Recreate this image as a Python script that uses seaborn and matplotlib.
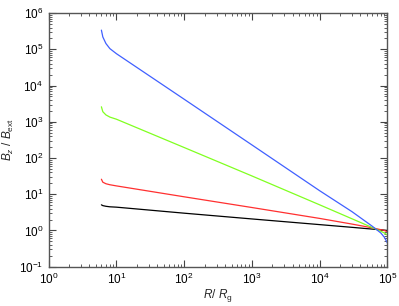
import pandas as pd
import numpy as np
import matplotlib
matplotlib.use("Agg")
import matplotlib.pyplot as plt
import matplotlib.ticker as mticker
import seaborn as sns

R_vals = [6.0, 6.3, 7.0, 8.0, 10.0, 100.0, 1e3, 1e4, 3e4, 6e4, 8e4, 9e4, 1e5]

# B_z / B_ext for each curve
blue_vals = [3.4e5, 2.2e5, 1.45e5, 1.05e5, 7.6e4, 4.2e3, 2.3e2, 12.5, 3.3, 1.3, 0.85, 0.65, 0.45]
green_vals = [2.6e3, 1.9e3, 1.55e3, 1.35e3, 1.18e3, 195.0, 32.0, 5.1, 2.1, 1.2, 0.95, 0.85, 0.75]
red_vals = [26.0, 21.5, 19.5, 18.3, 17.0, 8.5, 4.3, 2.15, 1.5, 1.18, 1.05, 1.0, 0.92]
black_vals = [5.1, 4.85, 4.65, 4.5, 4.4, 3.0, 2.08, 1.45, 1.22, 1.09, 1.04, 1.02, 1.0]

# decades shown on each axis
x_decades = [0, 1, 2, 3, 4, 5]
y_decades = [-1, 0, 1, 2, 3, 4, 5, 6]

curves = {"a": black_vals, "b": red_vals, "c": green_vals, "d": blue_vals}
colors = {"a": "black", "b": "#ff3030", "c": "#80ff20", "d": "#4060ff"}

rows = []
for name, vals in curves.items():
    for r, b in zip(R_vals, vals):
        rows.append({"R": r, "B": b, "curve": name})
df = pd.DataFrame(rows)

sns.set_style("ticks")
plt.rcParams["font.family"] = ["Liberation Sans", "DejaVu Sans"]
plt.rcParams["mathtext.fontset"] = "custom"
plt.rcParams["mathtext.rm"] = "Liberation Sans"
plt.rcParams["mathtext.it"] = "Liberation Sans:italic"
plt.rcParams["mathtext.bf"] = "Liberation Sans:bold"

fig = plt.figure(figsize=(3.99, 3.06), dpi=100)
ax = fig.add_axes([0.122, 0.1285, 0.849, 0.8285])

sns.lineplot(data=df, x="R", y="B", hue="curve", palette=colors, legend=False,
             linewidth=0.9, ax=ax, sort=False)

ax.set_xscale("log")
ax.set_yscale("log")
ax.set_xlim(1, 1e5)
ax.set_ylim(0.1, 1e6)

ax.set_xticks([10.0 ** d for d in x_decades])
ax.set_yticks([10.0 ** d for d in y_decades])
ax.xaxis.set_minor_locator(mticker.LogLocator(base=10, subs=np.arange(2, 10), numticks=20))
ax.yaxis.set_minor_locator(mticker.LogLocator(base=10, subs=np.arange(2, 10), numticks=20))
ax.xaxis.set_minor_formatter(mticker.NullFormatter())
ax.yaxis.set_minor_formatter(mticker.NullFormatter())
ax.set_xlim(1, 1e5)
ax.set_ylim(0.1, 1e6)

ax.tick_params(which="both", direction="in", top=True, right=True, colors="#444444",
               labelcolor="black", labelsize=8.5)
ax.tick_params(which="major", length=5, width=0.8)
ax.tick_params(which="minor", length=2.5, width=0.6)
ax.tick_params(axis="x", which="major", pad=4)
ax.tick_params(axis="y", which="major", pad=4)
for s in ax.spines.values():
    s.set_color("#555555")
    s.set_linewidth(1.0)

ax.set_xlabel(r"$R$/ $R_{\rm g}$", fontsize=8.5, labelpad=0)
ax.xaxis.set_label_coords(0.5, -0.08)
ax.set_ylabel(r"$B_z$ / $B_{\rm ext}$", fontsize=8.5, labelpad=2)

fig.savefig("out.png", dpi=100)
